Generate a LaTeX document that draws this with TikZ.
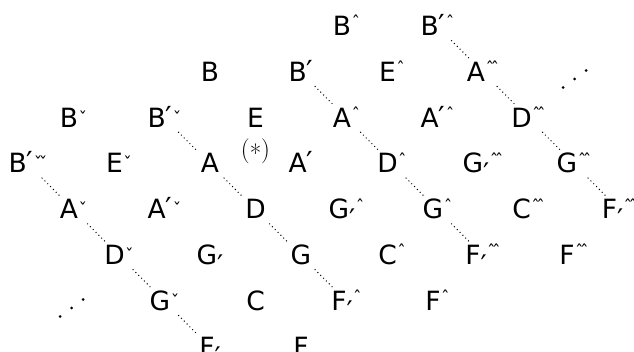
\documentclass[tikz,border=0pt]{standalone}
\usepackage{fontspec}
\newfontfamily\dv{DejaVu Sans}
\newfontfamily\lmr{Latin Modern Roman}
\newcommand\accbox[2]{\raisebox{#1}{\fontsize{17}{17}\selectfont #2}}
\newcommand\lo{\kern0.5pt\accbox{3pt}{ˇ}}
\newcommand\lolo{\kern0.5pt\accbox{3pt}{ˇ\kern-3.5ptˇ}}
\newcommand\hi{\kern0.5pt\accbox{6.5pt}{ˆ}}
\newcommand\hihi{\kern0.5pt\accbox{6.5pt}{ˆ\kern-3.5ptˆ}}
\newcommand\pr{{\fontsize{29}{30}\selectfont ′}}
\newcommand\lp{\raisebox{-10pt}{\fontsize{27}{30}\selectfont ′}}
\tikzset{
  note/.style={font=\dv\fontsize{26.5}{30}\selectfont, inner sep=0pt, anchor=base, text height=22pt, text depth=4pt},
  dotline/.style={line width=1.4pt, line cap=round, dash pattern=on 0pt off 4pt, shorten <=20pt, shorten >=20pt},
  ddot/.style={fill=black},
}
\newcommand\iddotsat[2]{%
  \fill[ddot] (#1-11.5,#2+8.5) circle (1.5);
  \fill[ddot] (#1,#2) circle (1.5);
  \fill[ddot] (#1+11.5,#2-8.5) circle (1.5);}
\begin{document}
\begin{tikzpicture}[x=1pt,y=-1pt]
\useasboundingbox (0,0) rectangle (634,352);
% grid: x_k = 28 + 45.5 k ; baseline y_j = 35.5 + 45.8 j
\def\X#1{\fpeval{28+45.5*#1}}
\def\Y#1{\fpeval{35.5+45.8*#1}}
% row 0
\node[note] (B7) at (\X{7},\Y{0}) {B\hi};
\node[note] (Bp9) at (\X{9},\Y{0}) {B\pr\hi};
% row 1
\node[note] (B4) at (\X{4},\Y{1}) {B};
\node[note] (Bp6) at (\X{6},\Y{1}) {B\pr};
\node[note] (E8) at (\X{8},\Y{1}) {E\hi};
\node[note] (A10) at (\X{10},\Y{1}) {A\hihi};
\iddotsat{574.5}{79}
% row 2
\node[note] (B1) at (\X{1},\Y{2}) {B\lo};
\node[note] (Bp3) at (\X{3},\Y{2}) {B\pr\lo};
\node[note] (E5) at (\X{5},\Y{2}) {E};
\node[note] (A7) at (\X{7},\Y{2}) {A\hi};
\node[note] (Ap9) at (\X{9},\Y{2}) {A\pr\hi};
\node[note] (D11) at (\X{11},\Y{2}) {D\hihi};
% row 3
\node[note] (Bp0) at (\X{0},\Y{3}) {B\pr\lolo};
\node[note] (E2) at (\X{2},\Y{3}) {E\lo};
\node[note] (A4) at (\X{4},\Y{3}) {A};
\node[note] (Ap6) at (\X{6},\Y{3}) {A\pr};
\node[note] (D8) at (\X{8},\Y{3}) {D\hi};
\node[note] (Gl10) at (\X{10},\Y{3}) {G\lp\hihi};
\node[note] (G12) at (\X{12},\Y{3}) {G\hihi};
\node[inner sep=0pt, font=\lmr\fontsize{25}{28}\selectfont] (star) at (\X{5},151) {(\raisebox{-5.5pt}{*})};
% row 4
\node[note] (A1) at (\X{1},\Y{4}) {A\lo};
\node[note] (Ap3) at (\X{3},\Y{4}) {A\pr\lo};
\node[note] (D5) at (\X{5},\Y{4}) {D};
\node[note] (Gl7) at (\X{7},\Y{4}) {G\lp\hi};
\node[note] (G9) at (\X{9},\Y{4}) {G\hi};
\node[note] (C11) at (\X{11},\Y{4}) {C\hihi};
\node[note] (Fl13) at (\X{13},\Y{4}) {F\lp\hihi};
% row 5
\node[note] (D2) at (\X{2},\Y{5}) {D\lo};
\node[note] (Gl4) at (\X{4},\Y{5}) {G\lp};
\node[note] (G6) at (\X{6},\Y{5}) {G};
\node[note] (C8) at (\X{8},\Y{5}) {C\hi};
\node[note] (Fl10) at (\X{10},\Y{5}) {F\lp\hihi};
\node[note] (F12) at (\X{12},\Y{5}) {F\hihi};
% row 6
\iddotsat{71.5}{308}
\node[note] (G3) at (\X{3},\Y{6}) {G\lo};
\node[note] (C5) at (\X{5},\Y{6}) {C};
\node[note] (Fl7) at (\X{7},\Y{6}) {F\lp\hi};
\node[note] (F9) at (\X{9},\Y{6}) {F\hi};
% row 7
\node[note] (Fl4) at (\X{4},\Y{7}) {F\lp};
\node[note] (F6) at (\X{6},\Y{7}) {F};
% dotted diagonals
\draw[dotline] (Bp0.center) -- (A1.center);
\draw[dotline] (A1.center) -- (D2.center);
\draw[dotline] (D2.center) -- (G3.center);
\draw[dotline] (G3.center) -- (Fl4.center);
\draw[dotline] (Bp3.center) -- (A4.center);
\draw[dotline] (A4.center) -- (D5.center);
\draw[dotline] (D5.center) -- (G6.center);
\draw[dotline] (G6.center) -- (Fl7.center);
\draw[dotline] (Bp6.center) -- (A7.center);
\draw[dotline] (A7.center) -- (D8.center);
\draw[dotline] (D8.center) -- (G9.center);
\draw[dotline] (G9.center) -- (Fl10.center);
\draw[dotline] (Bp9.center) -- (A10.center);
\draw[dotline] (A10.center) -- (D11.center);
\draw[dotline] (D11.center) -- (G12.center);
\draw[dotline] (G12.center) -- (Fl13.center);
\end{tikzpicture}
\end{document}
